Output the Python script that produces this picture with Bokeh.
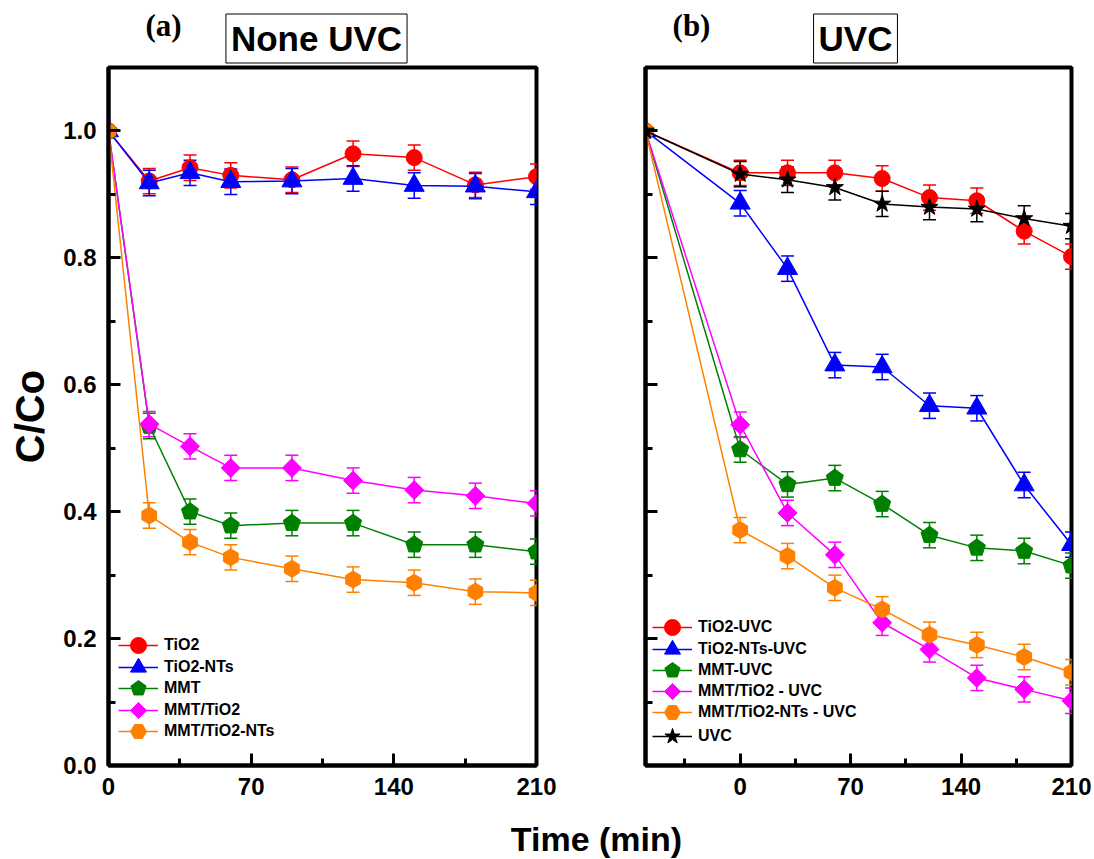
import numpy as np
from bokeh.plotting import figure
from bokeh.layouts import row, column
from bokeh.models import (ColumnDataSource, Whisker, TeeHead, Legend, LegendItem, Label,
                          SingleIntervalTicker, CustomJSTickFormatter, PrintfTickFormatter, Range1d)
from bokeh.embed import file_html
from bokeh.resources import INLINE

# ---------------- data ----------------
t_a = [0, 20, 40, 60, 90, 120, 150, 180, 210]
tio2_a = [1.0, 0.921, 0.942, 0.930, 0.923, 0.964, 0.958, 0.915, 0.928]
tio2nts_a = [1.0, 0.918, 0.934, 0.920, 0.921, 0.925, 0.914, 0.913, 0.904]
mmt_a = [1.0, 0.535, 0.400, 0.378, 0.382, 0.382, 0.348, 0.348, 0.337]
mmttio2_a = [1.0, 0.538, 0.503, 0.469, 0.469, 0.449, 0.434, 0.425, 0.413]
mmtnts_a = [1.0, 0.394, 0.352, 0.328, 0.310, 0.293, 0.288, 0.274, 0.272]
err_a = [0.0, 0.02, 0.02, 0.02, 0.02, 0.02, 0.02, 0.02, 0.02]

t_b = [-60, 0, 30, 60, 90, 120, 150, 180, 210]
tio2_b = [1.0, 0.934, 0.934, 0.934, 0.925, 0.895, 0.890, 0.842, 0.802]
tio2nts_b = [1.0, 0.886, 0.783, 0.631, 0.628, 0.567, 0.563, 0.442, 0.348]
mmt_b = [1.0, 0.498, 0.443, 0.453, 0.412, 0.363, 0.343, 0.338, 0.315]
mmttio2_b = [1.0, 0.537, 0.398, 0.332, 0.225, 0.183, 0.138, 0.120, 0.102]
mmtnts_b = [1.0, 0.371, 0.330, 0.280, 0.246, 0.206, 0.190, 0.171, 0.147]
uvc_b = [1.0, 0.932, 0.923, 0.911, 0.885, 0.880, 0.877, 0.862, 0.850]
err_b = [0.0, 0.02, 0.02, 0.02, 0.02, 0.02, 0.02, 0.02, 0.02]

x_ticks_interval = 70
y_ticks_interval = 0.2

FONT = "Liberation Sans"
SERIF = "Liberation Serif"

RED, BLUE, GREEN, MAG, ORG, BLK = "#FF0000", "#0000FF", "#008000", "#FF00FF", "#FF8000", "#000000"


def make_fig(width, left, right, xr, ylabels):
    p = figure(width=width, height=746, x_range=Range1d(*xr), y_range=Range1d(0, 1.1),
               output_backend="svg", toolbar_location=None,
               min_border_left=left, min_border_right=right, min_border_top=3, min_border_bottom=45)
    p.xgrid.visible = False
    p.ygrid.visible = False
    p.outline_line_color = "black"
    p.outline_line_width = 4
    p.background_fill_color = "white"
    p.border_fill_color = "white"
    for ax in (p.xaxis[0], p.yaxis[0]):
        ax.axis_line_width = 4
        ax.major_tick_in = 12
        ax.major_tick_out = 0
        ax.major_tick_line_width = 3
        ax.minor_tick_in = 7
        ax.minor_tick_out = 0
        ax.minor_tick_line_width = 3
        ax.major_label_text_font = FONT
        ax.major_label_text_font_style = "bold"
        ax.major_label_text_font_size = "24px"
        ax.major_label_standoff = 12
        ax.major_label_text_color = "black"
    p.xaxis.ticker = SingleIntervalTicker(interval=x_ticks_interval, num_minor_ticks=2)
    p.yaxis.ticker = SingleIntervalTicker(interval=y_ticks_interval, num_minor_ticks=2)
    if ylabels:
        p.yaxis.formatter = PrintfTickFormatter(format="%.1f")
        p.yaxis.axis_label = "C/Co"
        p.yaxis.axis_label_text_font = FONT
        p.yaxis.axis_label_text_font_style = "bold"
        p.yaxis.axis_label_text_font_size = "40px"
        p.yaxis.axis_label_text_color = "black"
        p.yaxis.axis_label_standoff = 8
    else:
        p.yaxis.formatter = CustomJSTickFormatter(code="return ''")
    return p


def polygon_marker(p, src, n, size, color):
    try:
        return p.ngon("x", "y", source=src, radius=size / 2, radius_units="screen", n=n,
                      fill_color=color, line_color=color)
    except Exception:
        mk = {4: "diamond", 5: "hex", 6: "hex"}[n]
        return p.scatter("x", "y", source=src, marker=mk, size=size, fill_color=color, line_color=color)


def add_series(p, t, y, err, color, kind, size):
    src = ColumnDataSource(dict(x=t, y=y))
    ln = p.line("x", "y", source=src, line_color=color, line_width=1.5)
    wx = [a for a, e in zip(t, err) if e > 0]
    wy = [b for b, e in zip(y, err) if e > 0]
    we = [e for e in err if e > 0]
    wsrc = ColumnDataSource(dict(x=wx, lo=[b - e for b, e in zip(wy, we)], hi=[b + e for b, e in zip(wy, we)]))
    w = Whisker(source=wsrc, base="x", upper="hi", lower="lo", line_color=color, line_width=1.5,
                upper_head=TeeHead(size=13, line_color=color, line_width=1.5),
                lower_head=TeeHead(size=13, line_color=color, line_width=1.5))
    p.add_layout(w)
    if kind == "pentagon":
        mk = polygon_marker(p, src, 5, size, color)
    elif kind == "diamond":
        mk = polygon_marker(p, src, 4, size, color)
    elif kind == "hex":
        mk = p.scatter("x", "y", source=src, marker="hex", angle=np.pi / 2, size=size,
                       fill_color=color, line_color=color)
    else:
        mk = p.scatter("x", "y", source=src, marker=kind, size=size, fill_color=color, line_color=color)
    return [ln, mk]


def add_legend(p, items, x0, offsets):
    # one single-item legend per entry so that the marker can be large while rows stay tight
    for (label, rends), off in zip(items, offsets):
        leg = Legend(items=[LegendItem(label=label, renderers=rends)], location=(x0, off),
                     padding=0, margin=0, border_line_color=None, background_fill_alpha=0,
                     label_text_font=FONT, label_text_font_style="bold", label_text_font_size="16px",
                     label_text_color="black",
                     glyph_width=40, glyph_height=40, label_height=40, spacing=0, label_standoff=6)
        p.add_layout(leg)


# ---------------- panel (a) ----------------
pa = make_fig(590, 108, 54, (0, 210), True)
ra = [
    ("TiO2", add_series(pa, t_a, tio2_a, err_a, RED, "circle", 16)),
    ("TiO2-NTs", add_series(pa, t_a, tio2nts_a, err_a, BLUE, "triangle", 20)),
    ("MMT", add_series(pa, t_a, mmt_a, err_a, GREEN, "pentagon", 18)),
    ("MMT/TiO2", add_series(pa, t_a, mmttio2_a, err_a, MAG, "diamond", 19)),
    ("MMT/TiO2-NTs", add_series(pa, t_a, mmtnts_a, err_a, ORG, "hex", 17)),
]
add_legend(pa, ra, 10, [100, 78, 57, 35, 14])

# ---------------- panel (b) ----------------
pb = make_fig(504, 55, 23, (-60, 210), False)
rb = [
    ("TiO2-UVC", add_series(pb, t_b, tio2_b, err_b, RED, "circle", 16)),
    ("TiO2-NTs-UVC", add_series(pb, t_b, tio2nts_b, err_b, BLUE, "triangle", 20)),
    ("MMT-UVC", add_series(pb, t_b, mmt_b, err_b, GREEN, "pentagon", 18)),
    ("MMT/TiO2 - UVC", add_series(pb, t_b, mmttio2_b, err_b, MAG, "diamond", 19)),
    ("MMT/TiO2-NTs - UVC", add_series(pb, t_b, mmtnts_b, err_b, ORG, "hex", 17)),
    ("UVC", add_series(pb, t_b, uvc_b, err_b, BLK, "star", 18)),
]
add_legend(pb, rb, 7, [118, 96, 75, 54, 33, 9])


def blank(h):
    q = figure(width=1094, height=h, x_range=Range1d(0, 1), y_range=Range1d(0, 1),
               output_backend="svg", toolbar_location=None, min_border=0,
               x_axis_location=None, y_axis_location=None)
    q.outline_line_color = None
    q.xgrid.visible = False
    q.ygrid.visible = False
    return q


# ---------------- titles ----------------
pt = blank(64)
for txt, cx in [("(a)", 163), ("(b)", 691)]:
    pt.add_layout(Label(x=cx, y=39, x_units="screen", y_units="screen", text=txt,
                        text_font=SERIF, text_font_style="bold", text_font_size="31px",
                        text_color="black", text_align="center", text_baseline="middle"))
for txt, cx in [("None UVC", 316), ("UVC", 855)]:
    pt.add_layout(Label(x=cx, y=26, x_units="screen", y_units="screen", text=txt,
                        text_font=FONT, text_font_style="bold", text_font_size="35px",
                        text_color="black", text_align="center", text_baseline="middle",
                        border_line_color="black", border_line_width=1,
                        background_fill_color="white", padding=5))

# ---------------- shared x label ----------------
pc = blank(49)
pc.add_layout(Label(x=596, y=21, x_units="screen", y_units="screen", text="Time (min)",
                    text_font=FONT, text_font_style="bold", text_font_size="34px",
                    text_color="black", text_align="center", text_baseline="middle"))

layout = column(pt, row(pa, pb, spacing=0), pc, spacing=0)
open("out.html", "w").write(file_html(layout, INLINE))
